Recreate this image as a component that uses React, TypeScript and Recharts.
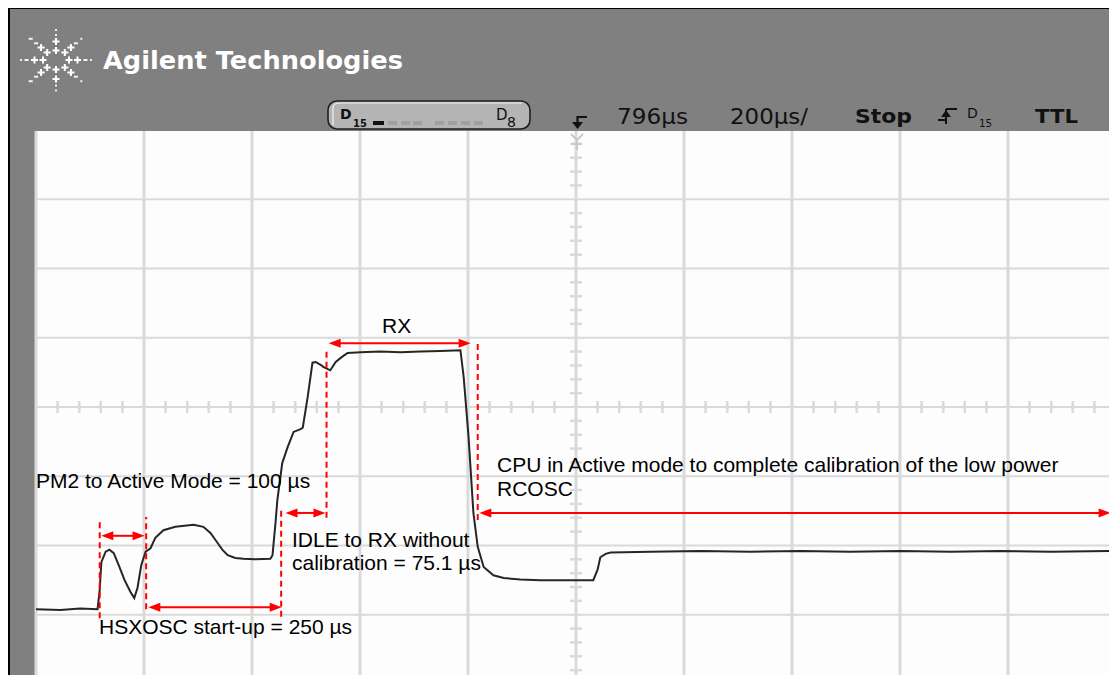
import { LineChart, Line, XAxis, YAxis, CartesianGrid, ReferenceLine } from "recharts";

// scope trace, time in µs (200 µs/div, centre = 796 µs), level in divisions from bottom graticule
const TIME_US = [
  -204, -159, -122, -90, -86, -83, -75, -68, -60, -51, -40, -29, -22, -16, -9, -1, 8, 17, 32, 54, 88, 106,
  119, 132, 141, 151, 165, 180, 202, 230, 234, 240, 243, 252, 262, 273, 286, 290, 299, 308, 314, 323, 328,
  341, 351, 362, 373, 397, 434, 471, 508, 545, 582, 588, 597, 606, 614, 625, 643, 662, 693, 730, 767, 828,
  836, 841, 851, 860, 934, 1027, 1119, 1212, 1304, 1397, 1490, 1582, 1675, 1796,
];
const LEVEL_DIV = [
  1.08, 1.07, 1.09, 1.08, 1.36, 1.76, 1.91, 1.94, 1.89, 1.72, 1.5, 1.33, 1.24, 1.39, 1.72, 1.91, 1.96, 2.11,
  2.22, 2.27, 2.3, 2.27, 2.18, 2.04, 1.94, 1.86, 1.82, 1.81, 1.8, 1.81, 1.86, 2.37, 2.66, 3.19, 3.42, 3.64,
  3.68, 3.7, 4.14, 4.64, 4.65, 4.61, 4.58, 4.53, 4.65, 4.72, 4.78, 4.79, 4.8, 4.79, 4.8, 4.81, 4.82, 4.43,
  3.57, 2.47, 1.98, 1.69, 1.57, 1.53, 1.51, 1.5, 1.5, 1.5, 1.65, 1.83, 1.88, 1.9, 1.91, 1.92, 1.91, 1.92,
  1.91, 1.92, 1.91, 1.92, 1.91, 1.92,
];

// graticule
const X_TICKS = [-4, 196, 396, 596, 796, 996, 1196, 1396, 1596];
const Y_TICKS = [1, 2, 3, 4, 5, 6, 7];
const X_MINOR = Array.from({ length: 49 }, (_, i) => -164 + i * 40);
const Y_MINOR = Array.from({ length: 39 }, (_, i) => 0.2 + i * 0.2);

// red dashed markers
const MARK_T = [-86, 0, 250, 334, 614];
const MARK_TOP = [2.34, 2.41, 2.51, 4.85, 4.92];
const MARK_BOTTOM = [0.95, 1.08, 0.97, 2.4, 2.37];

// red double arrows
const SPAN_FROM = [-83, 4, 258, 338, 617];
const SPAN_TO = [-3, 251, 332, 601, 1786];
const SPAN_LEVEL = [2.14, 1.11, 2.47, 4.92, 2.47];

const RED = "#ff0000";
const GRID = "#dadada";

function arrowShape(p: any) {
  const { x1, y1, x2, y2 } = p;
  const hl = 12;
  const hw = 4.5;
  const d = x2 > x1 ? 1 : -1;
  return (
    <g>
      <line x1={x1 + d * 8} y1={y1} x2={x2 - d * 8} y2={y2} stroke={RED} strokeWidth={2} />
      <polygon points={`${x1},${y1} ${x1 + d * hl},${y1 - hw} ${x1 + d * hl},${y1 + hw}`} fill={RED} />
      <polygon points={`${x2},${y2} ${x2 - d * hl},${y2 - hw} ${x2 - d * hl},${y2 + hw}`} fill={RED} />
    </g>
  );
}

function Logo({ cx, cy }: { cx: number; cy: number }) {
  // starburst: each ray lists items by radius
  const rays: { a: number; items: [number, string][] }[] = [
    { a: 0, items: [[13, "+"], [21.5, "+"], [29.5, "-"], [35, "."]] },
    { a: 180, items: [[13, "+"], [21.5, "+"], [29.5, "-"], [35, "."]] },
    { a: -90, items: [[9.5, "+"], [18.5, "+"], [25, "."], [30, "."]] },
    { a: 90, items: [[9.5, "+"], [19, "+"], [25.5, "."], [30.5, "."]] },
    { a: -140, items: [[11.5, "+"], [19.5, "+"], [26, "-"], [33, "-"]] },
    { a: -40, items: [[11.5, "+"], [19.5, "+"], [26, "-"], [33, "."]] },
    { a: 140, items: [[11.5, "+"], [19.5, "+"], [26, "-"], [33, "-"]] },
    { a: 40, items: [[11.5, "+"], [19.5, "+"], [26, "-"], [33, "."]] },
  ];
  const out: JSX.Element[] = [];
  rays.forEach((r, ri) =>
    r.items.forEach(([rad, kind], ii) => {
      const x = cx + rad * Math.cos((r.a * Math.PI) / 180);
      const y = cy + rad * Math.sin((r.a * Math.PI) / 180);
      const k = `${ri}-${ii}`;
      if (kind === "+") {
        out.push(
          <path key={k} d={`M${x - 3.5} ${y} H${x + 3.5} M${x} ${y - 3.5} V${y + 3.5}`} stroke="#fff" strokeWidth={2} />
        );
      } else if (kind === "-") {
        out.push(<rect key={k} x={x - 2} y={y - 1} width={4} height={2} fill="#f4f4f4" />);
      } else {
        out.push(<rect key={k} x={x - 1} y={y - 1} width={2} height={2} fill="#eee" />);
      }
    })
  );
  return <g>{out}</g>;
}

const LABEL_FONT = "'Liberation Sans', Arial, sans-serif";
const SCOPE_FONT = "'DejaVu Sans', sans-serif";

export default function App() {
  const data = TIME_US.map((t, i) => ({ t, v: LEVEL_DIV[i] }));
  const W = 1109;
  const H = 675;

  return (
    <div style={{ position: "absolute", left: 0, top: 0, width: W, height: H, overflow: "hidden", background: "#fff" }}>
      <svg width={W} height={H} style={{ position: "absolute", left: 0, top: 0 }}>
        <rect x={0} y={0} width={W} height={H} fill="#fff" />
        <rect x={9} y={8} width={W} height={H} fill="#808080" />
        <line x1={9} y1={8} x2={9} y2={H} stroke="#000" strokeWidth={2} />
        <line x1={9} y1={8.5} x2={W} y2={8.5} stroke="#000" strokeWidth={1} />
        <rect x={35} y={131} width={W} height={H} fill="#fdfdfd" />
      </svg>

      <div style={{ position: "absolute", left: 0, top: 0 }}>
        <LineChart width={1116} height={684} data={data} margin={{ top: 130, right: 0, bottom: 0, left: 36 }}>
          <XAxis type="number" dataKey="t" domain={[-204, 1796]} ticks={X_TICKS} hide allowDataOverflow />
          <YAxis type="number" domain={[0, 8]} ticks={Y_TICKS} hide allowDataOverflow />
          <CartesianGrid horizontal={false} stroke={GRID} strokeWidth={3} />
          <CartesianGrid vertical={false} stroke={GRID} strokeWidth={2} />
          {X_MINOR.filter((t) => !X_TICKS.includes(t)).map((t) => (
            <ReferenceLine
              key={`xm${t}`}
              segment={[{ x: t, y: 3.913 }, { x: t, y: 4.087 }]}
              stroke={GRID}
              strokeWidth={2.5}
            />
          ))}
          {Y_MINOR.filter((v) => Math.abs(v - Math.round(v)) > 0.01).map((v) => (
            <ReferenceLine
              key={`ym${v.toFixed(1)}`}
              segment={[{ x: 785, y: v }, { x: 807, y: v }]}
              stroke={GRID}
              strokeWidth={2.5}
            />
          ))}
          <Line
            type="linear"
            dataKey="v"
            stroke="#262626"
            strokeWidth={2}
            dot={false}
            isAnimationActive={false}
          />
          {MARK_T.map((t, i) => (
            <ReferenceLine
              key={`mk${i}`}
              segment={[{ x: t, y: MARK_BOTTOM[i] }, { x: t, y: MARK_TOP[i] }]}
              stroke={RED}
              strokeWidth={2}
              strokeDasharray="6 4"
            />
          ))}
          {SPAN_FROM.map((t, i) => (
            <ReferenceLine
              key={`sp${i}`}
              segment={[{ x: t, y: SPAN_LEVEL[i] }, { x: SPAN_TO[i], y: SPAN_LEVEL[i] }]}
              shape={arrowShape}
            />
          ))}
        </LineChart>
      </div>

      <svg width={W} height={H} style={{ position: "absolute", left: 0, top: 0 }}>
        <rect x={10} y={9} width={W} height={122} fill="#808080" />
        <Logo cx={56} cy={60} />
        <text
          x={103}
          y={69}
          fill="#fff"
          fontFamily={SCOPE_FONT}
          fontWeight="bold"
          fontSize={25}
          textLength={300}
          lengthAdjust="spacingAndGlyphs"
        >
          Agilent Technologies
        </text>

        {/* digital channel bar */}
        <rect x={328} y={101} width={202} height={28} rx={9} fill="#b4b4b4" stroke="#1e1e1e" strokeWidth={1.6} />
        <path d="M333 125 V108 Q333 103 340 103 H522" stroke="#f2f2f2" strokeWidth={1.2} fill="none" />
        <text x={340} y={119} fontFamily={SCOPE_FONT} fontSize={14} fill="#111" fontWeight="bold">D</text>
        <text x={353} y={127} fontFamily={SCOPE_FONT} fontSize={10} fill="#111" fontWeight="bold">15</text>
        <rect x={373} y={121} width={11} height={4} fill="#111" />
        {[388, 401, 413, 435, 448, 461, 474].map((x) => (
          <rect key={x} x={x} y={121} width={9} height={4} fill="#a0a0a0" />
        ))}
        <text x={496} y={120} fontFamily={SCOPE_FONT} fontSize={15} fill="#111">D</text>
        <text x={507} y={127} fontFamily={SCOPE_FONT} fontSize={14} fill="#111">8</text>

        {/* trigger position marker */}
        <path d="M587 117 H577.5 V124" stroke="#111" strokeWidth={2.2} fill="none" />
        <polygon points="572,122 583,122 577.5,129" fill="#111" />
        <path d="M571 134 L577 140 L583 134 M577 140 V150 M572 144 H582" stroke="#c8c8c8" strokeWidth={2} fill="none" />

        <text x={617} y={124} fontFamily={SCOPE_FONT} fontSize={21} fill="#111" textLength={71} lengthAdjust="spacingAndGlyphs">
          796µs
        </text>
        <text x={730} y={124} fontFamily={SCOPE_FONT} fontSize={21} fill="#111" textLength={78} lengthAdjust="spacingAndGlyphs">
          200µs/
        </text>
        <text x={855} y={123} fontFamily={SCOPE_FONT} fontSize={20} fontWeight="bold" fill="#111" textLength={57} lengthAdjust="spacingAndGlyphs">
          Stop
        </text>
        <path d="M938 120 H946 M946 124 V109 M946 109 H957" stroke="#111" strokeWidth={2} fill="none" />
        <polygon points="941,117 951,117 946,110" fill="#111" />
        <text x={967} y={118} fontFamily={SCOPE_FONT} fontSize={14} fill="#111">D</text>
        <text x={979} y={127} fontFamily={SCOPE_FONT} fontSize={11} fill="#111" textLength={13} lengthAdjust="spacingAndGlyphs">15</text>
        <text x={1035} y={123} fontFamily={SCOPE_FONT} fontSize={20} fontWeight="bold" fill="#111" textLength={43} lengthAdjust="spacingAndGlyphs">
          TTL
        </text>

        {/* annotations */}
        <g fontFamily={LABEL_FONT} fontSize={21} fill="#000">
          <text x={382} y={333}>RX</text>
          <text x={36} y={488}>PM2 to Active Mode = 100 µs</text>
          <text x={292} y={547}>IDLE to RX without</text>
          <text x={292} y={570}>calibration = 75.1 µs</text>
          <text x={497} y={472}>CPU in Active mode to complete calibration of the low power</text>
          <text x={497} y={496}>RCOSC</text>
          <text x={99} y={634}>HSXOSC start-up = 250 µs</text>
        </g>
      </svg>
    </div>
  );
}
